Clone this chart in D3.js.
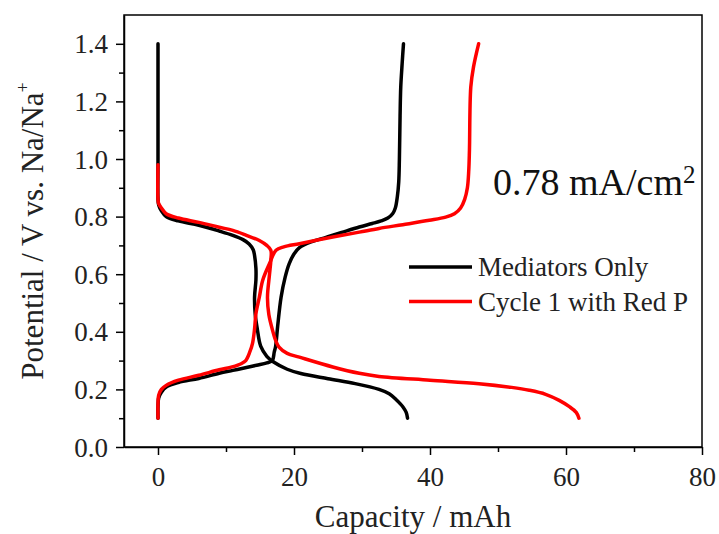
<!DOCTYPE html>
<html>
<head>
<meta charset="utf-8">
<script src="https://cdn.jsdelivr.net/npm/d3@7"></script>
<style>
  body { margin: 0; background: #fff; }
  svg { display: block; }
</style>
</head>
<body>
<div id="chart"></div>
<script>
// capacity (mAh), potential (V)
const blackDischarge = [[0,1.40],[0,1.0],[0,0.86],[0.1,0.84],[0.5,0.82],[1.2,0.80],[3,0.785],[6,0.77],[9,0.75],[11,0.735],[12.5,0.72],[13.4,0.705],[14,0.685],[14.2,0.665],[14.4,0.62],[14.4,0.58],[14.2,0.52],[14.3,0.46],[14.6,0.41],[15.1,0.35],[16,0.315],[17,0.295],[19,0.27],[21,0.255],[25,0.237],[29,0.22],[32.5,0.20],[34,0.185],[35,0.165],[36,0.14],[36.5,0.12],[36.7,0.10]];
const blackCharge = [[0,0.10],[0,0.14],[0.1,0.17],[0.5,0.19],[1.2,0.208],[3,0.224],[6,0.238],[9,0.256],[11,0.266],[13,0.276],[14.5,0.284],[16,0.292],[16.8,0.30],[17.1,0.33],[17.3,0.35],[17.6,0.42],[18.1,0.52],[18.7,0.59],[19.3,0.637],[20,0.67],[20.8,0.692],[22.5,0.712],[24.7,0.728],[27,0.745],[29.6,0.764],[31.5,0.776],[32.8,0.785],[33.8,0.795],[34.5,0.81],[34.9,0.83],[35.2,0.87],[35.4,0.92],[35.5,1.0],[35.6,1.15],[35.7,1.25],[35.9,1.33],[36.1,1.40]];
const redDischarge = [[0,0.98],[0,0.86],[0.1,0.845],[0.5,0.83],[1.2,0.81],[3,0.795],[6,0.78],[9,0.763],[11,0.752],[13,0.735],[14.9,0.717],[16,0.70],[16.6,0.683],[16.6,0.65],[16.4,0.60],[16.1,0.52],[16.3,0.46],[16.85,0.405],[17.3,0.37],[17.8,0.347],[19,0.325],[20.8,0.312],[25.7,0.278],[29.6,0.256],[32.5,0.245],[40,0.232],[47.2,0.22],[52,0.207],[54.6,0.197],[57,0.183],[59,0.162],[60.5,0.14],[61.5,0.12],[61.9,0.10]];
const redCharge = [[0,0.10],[0,0.15],[0.1,0.18],[0.5,0.20],[1.2,0.214],[3,0.232],[6,0.249],[9,0.268],[10.9,0.278],[12.3,0.29],[12.9,0.30],[13.5,0.33],[13.9,0.36],[14.2,0.41],[14.4,0.463],[14.9,0.52],[15.4,0.579],[16.4,0.637],[17.35,0.683],[18.5,0.695],[20.8,0.706],[25.7,0.729],[29.6,0.746],[32.5,0.759],[36,0.772],[39.9,0.787],[42.3,0.798],[43.6,0.81],[44.5,0.83],[45.1,0.86],[45.5,0.9],[45.7,0.96],[45.8,1.03],[46.0,1.25],[46.4,1.32],[47.15,1.40]];

const xMajor = [0, 20, 40, 60, 80];
const xMinor = [10, 30, 50, 70];
const yMajor = [0.0, 0.2, 0.4, 0.6, 0.8, 1.0, 1.2, 1.4];
const yMinor = [0.1, 0.3, 0.5, 0.7, 0.9, 1.1, 1.3];

const series = [
  {name: "Mediators Only", color: "#000000", parts: [blackDischarge, blackCharge]},
  {name: "Cycle 1 with Red P", color: "#ff0000", parts: [redDischarge, redCharge]}
];

const serif = "'Liberation Serif', 'Times New Roman', serif";
const width = 719, height = 534;
const margin = {top: 15, right: 17, bottom: 87, left: 124};
const w = width - margin.left - margin.right;
const h = height - margin.top - margin.bottom;

const svg = d3.select("#chart").append("svg")
  .attr("width", width)
  .attr("height", height)
  .attr("font-family", serif);

const g = svg.append("g").attr("transform", `translate(${margin.left},${margin.top})`);

const x = d3.scaleLinear().domain([-5, 80]).range([0, w]);
const y = d3.scaleLinear().domain([0, 1.5]).range([h, 0]);

// minor ticks first, then the major ones with labels
g.append("g").attr("transform", `translate(0,${h})`)
  .call(d3.axisBottom(x).tickValues(xMinor).tickSize(5).tickFormat(""))
  .call(a => a.select(".domain").remove());
g.append("g").call(d3.axisLeft(y).tickValues(yMinor).tickSize(5).tickFormat(""))
  .call(a => a.select(".domain").remove());

const xAxis = g.append("g").attr("transform", `translate(0,${h})`)
  .call(d3.axisBottom(x).tickValues(xMajor).tickSize(8).tickSizeOuter(0).tickPadding(12));
const yAxis = g.append("g")
  .call(d3.axisLeft(y).tickValues(yMajor).tickSize(8).tickSizeOuter(0).tickPadding(8).tickFormat(d3.format(".1f")));

g.selectAll("g").attr("font-family", serif);
g.selectAll(".tick line").attr("stroke-width", 1.5);
g.selectAll(".domain").attr("stroke-width", 1.5);
xAxis.selectAll("text").attr("font-size", 27).attr("fill", "#222");
yAxis.selectAll("text").attr("font-size", 27).attr("fill", "#222").attr("dy", "0.34em");

// frame
g.append("rect").attr("width", w).attr("height", h)
  .attr("fill", "none").attr("stroke", "#000").attr("stroke-width", 1.5);

const line = d3.line()
  .x(d => x(d[0]))
  .y(d => y(d[1]))
  .curve(d3.curveCatmullRom.alpha(0.5));

series.forEach(s => {
  s.parts.forEach(p => {
    g.append("path").datum(p)
      .attr("d", line)
      .attr("fill", "none")
      .attr("stroke", s.color)
      .attr("stroke-width", 3.5)
      .attr("stroke-linejoin", "round")
      .attr("stroke-linecap", "round");
  });
});

// legend
const legend = svg.append("g");
series.forEach((s, i) => {
  const ly = 267 + i * 34.5;
  legend.append("line")
    .attr("x1", 409).attr("x2", 472).attr("y1", ly).attr("y2", ly)
    .attr("stroke", s.color).attr("stroke-width", 3.5);
  legend.append("text")
    .attr("x", 478).attr("y", ly + 9)
    .attr("font-family", serif).attr("font-size", 27).attr("fill", "#222")
    .text(s.name);
});

// current density note
const note = svg.append("text").attr("x", 493).attr("y", 195)
  .attr("font-family", serif).attr("font-size", 38).attr("fill", "#111");
note.append("tspan").text("0.78 mA/cm");
note.append("tspan").attr("dy", -12).attr("font-size", 25).text("2");

// axis titles
svg.append("text")
  .attr("x", margin.left + w / 2).attr("y", 527)
  .attr("text-anchor", "middle")
  .attr("font-family", serif).attr("font-size", 31).attr("fill", "#222")
  .text("Capacity / mAh");

const yt = svg.append("text")
  .attr("transform", `translate(43,${margin.top + h / 2}) rotate(-90)`)
  .attr("text-anchor", "middle")
  .attr("font-family", serif).attr("font-size", 31).attr("fill", "#222");
yt.append("tspan").text("Potential / V vs. Na/Na");
yt.append("tspan").attr("dy", -14).attr("font-size", 18).text("+");
</script>
</body>
</html>
